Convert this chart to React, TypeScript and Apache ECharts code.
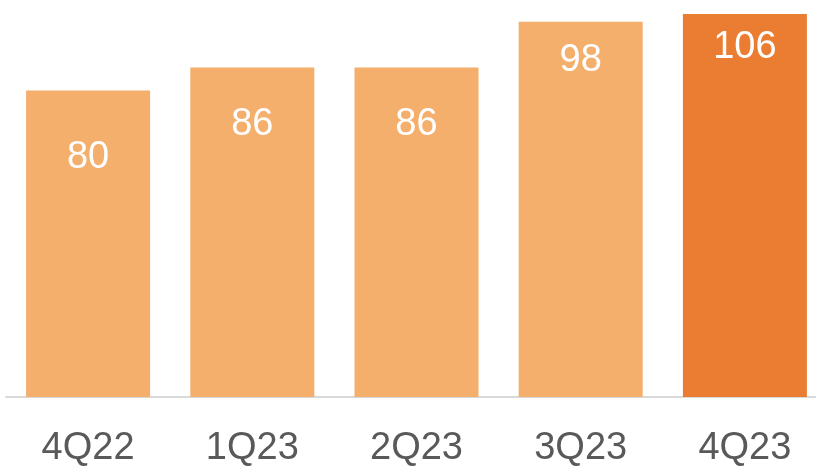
import React, { useEffect, useRef } from "react";
import * as echarts from "echarts";

const categories = ["4Q22", "1Q23", "2Q23", "3Q23", "4Q23"];
const values = [80, 86, 86, 98, 106];
const barColors = ["#F4AF6D", "#F4AF6D", "#F4AF6D", "#F4AF6D", "#EA7D31"];
const labelDistances = [45, 35, 35, 17, 12];

export default function App() {
  const ref = useRef<HTMLDivElement>(null);
  useEffect(() => {
    if (!ref.current) return;
    const chart = echarts.init(ref.current, null, { renderer: "svg" });
    const font = "'Liberation Sans', Arial, sans-serif";
    chart.setOption({
      animation: false,
      grid: { left: 6, right: 0, top: 14, bottom: 71, containLabel: false },
      xAxis: {
        type: "category",
        data: categories,
        axisLine: { show: true, lineStyle: { color: "#D9D9D9", width: 2 } },
        axisTick: { show: false },
        axisLabel: {
          color: "#595959",
          fontSize: 38,
          lineHeight: 38,
          fontFamily: font,
          margin: 30,
        },
      },
      yAxis: {
        type: "value",
        min: 0,
        max: 100,
        show: false,
        splitLine: { show: false },
      },
      series: [
        {
          type: "bar",
          barWidth: 124,
          clip: true,
          data: values.map((v, i) => ({
            value: v,
            itemStyle: { color: barColors[i] },
            label: { distance: labelDistances[i] },
          })),
          label: {
            show: true,
            position: "insideTop",
            color: "#FFFFFF",
            fontSize: 38,
            fontFamily: font,
          },
        },
      ],
    });
    return () => chart.dispose();
  }, []);
  return (
    <div style={{ position: "fixed", left: 0, top: 0, width: 816, height: 468, overflow: "hidden" }}>
      <div ref={ref} style={{ width: 827, height: 468 }} />
    </div>
  );
}
